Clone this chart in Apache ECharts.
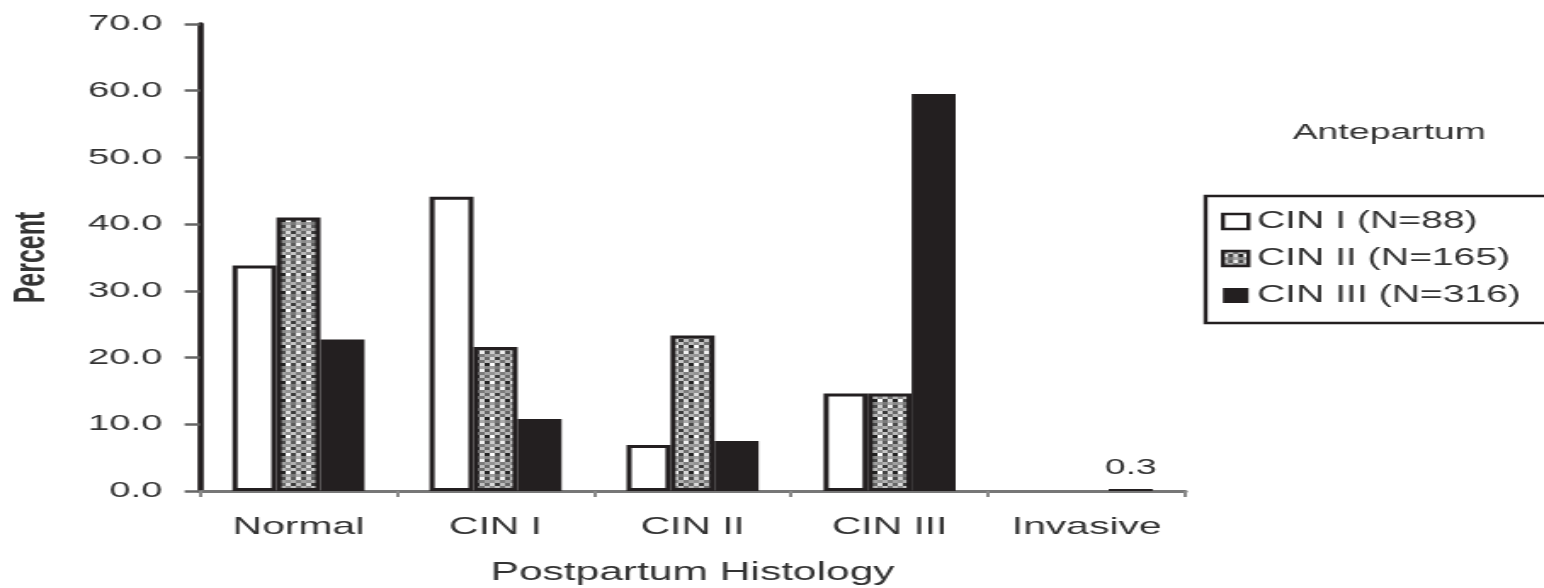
<!DOCTYPE html>
<html><head><meta charset="utf-8">
<script src="https://cdn.jsdelivr.net/npm/echarts@6/dist/echarts.min.js"></script>
<style>
html,body{margin:0;padding:0;background:#fff;overflow:hidden;width:1544px;height:588px}
#c{width:908px;height:588px;transform:scaleX(1.7004);transform-origin:0 0}
</style>
</head><body><div id="c"></div>
<script>
const categories = ['Normal', 'CIN I', 'CIN II', 'CIN III', 'Invasive'];
const seriesNames = ['CIN I (N=88)', 'CIN II (N=165)', 'CIN III (N=316)'];
const cin1 = [33.8, 44.1, 6.9, 14.6, 0];
const cin2 = [41.0, 21.6, 23.3, 14.6, 0];
const cin3 = [22.7, 10.8, 7.5, 59.5, 0.3];
const yTicks = { min: 0, max: 70, interval: 10 };
const legendTitle = 'Antepartum';

function makePattern() {
  const c = document.createElement('canvas');
  const cw = 3, ch = 3, nx = 4, ny = 6;
  c.width = cw * nx; c.height = ch * ny;
  const g = c.getContext('2d');
  const grid = [
    ['#8a8a8a','#c4c4c4','#6e6e6e','#b8b8b8'],
    ['#ffffff','#444444','#d8d8d8','#222222'],
    ['#9c9c9c','#7a7a7a','#a8a8a8','#888888'],
    ['#cfcfcf','#5c5c5c','#f0f0f0','#4a4a4a'],
    ['#929292','#b0b0b0','#7c7c7c','#a0a0a0'],
    ['#dcdcdc','#3a3a3a','#c0c0c0','#666666']
  ];
  for (let y = 0; y < ny; y++) for (let x = 0; x < nx; x++) {
    g.fillStyle = grid[y][x];
    g.fillRect(x * cw, y * ch, cw, ch);
  }
  return c;
}
const patt = { image: makePattern(), repeat: 'repeat' };

const font = 'Liberation Sans, Arial, sans-serif';
const noZeroBorder = arr => arr.map(v => v === 0 ? { value: v, itemStyle: { borderWidth: 0 } } : v);

const chart = echarts.init(document.getElementById('c'), null, { renderer: 'canvas' });
chart.setOption({
  animation: false,
  backgroundColor: '#fff',
  textStyle: { fontFamily: font },
  grid: { left: 117.6, right: 211, top: 24, bottom: 97, containLabel: false, outerBoundsMode: 'none' },
  title: {
    text: legendTitle, left: 812, top: 117, textAlign: 'center',
    textStyle: { fontSize: 22, fontWeight: 'normal', color: '#333', fontFamily: font }
  },
  legend: {
    orient: 'vertical', left: 709, top: 196,
    padding: [14, 15, 16, 9], itemGap: 14,
    borderColor: '#231f20', borderWidth: 2.4,
    itemWidth: 15, itemHeight: 15, icon: 'rect',
    textStyle: { fontSize: 23, color: '#333', fontFamily: font },
    data: [
      { name: seriesNames[0], itemStyle: { borderWidth: 2.4 } },
      { name: seriesNames[1], itemStyle: { borderWidth: 2.4 } },
      { name: seriesNames[2] }
    ]
  },
  xAxis: {
    type: 'category', data: categories,
    name: 'Postpartum Histology', nameLocation: 'middle', nameGap: 70,
    nameTextStyle: { fontSize: 25, color: '#333', fontFamily: font },
    axisLine: { lineStyle: { color: '#777', width: 3 } },
    axisTick: { show: true, length: 6, lineStyle: { color: '#888', width: 2 } },
    axisLabel: { interval: 0, fontSize: 24, color: '#333', margin: 24, fontFamily: font }
  },
  yAxis: {
    type: 'value', min: yTicks.min, max: yTicks.max, interval: yTicks.interval,
    name: 'Percent', nameLocation: 'middle', nameGap: 86, nameRotate: 90,
    nameTextStyle: { fontSize: 25, fontWeight: 'bold', color: '#333', fontFamily: font },
    axisLine: { show: true, lineStyle: { color: '#231f20', width: 3.6 } },
    axisTick: { show: true, length: 9, lineStyle: { color: '#666', width: 2.5 } },
    axisLabel: { fontSize: 22.5, color: '#333', margin: 22, fontFamily: font,
      formatter: v => v.toFixed(1) },
    splitLine: { show: false }
  },
  series: [
    { name: seriesNames[0], type: 'bar', data: noZeroBorder(cin1), barGap: '0%', barCategoryGap: '33%',
      itemStyle: { color: '#fff', borderColor: '#231f20', borderWidth: 3 } },
    { name: seriesNames[1], type: 'bar', data: noZeroBorder(cin2),
      itemStyle: { color: patt, borderColor: '#231f20', borderWidth: 3 } },
    { name: seriesNames[2], type: 'bar',
      data: cin3.map((v, i) => i === 4 ? { value: v, label: { show: true, position: 'top',
        distance: 10, fontSize: 22, color: '#333', formatter: p => p.value.toFixed(1) } } : v),
      itemStyle: { color: '#231f20', borderWidth: 0 } }
  ]
});
</script></body></html>
